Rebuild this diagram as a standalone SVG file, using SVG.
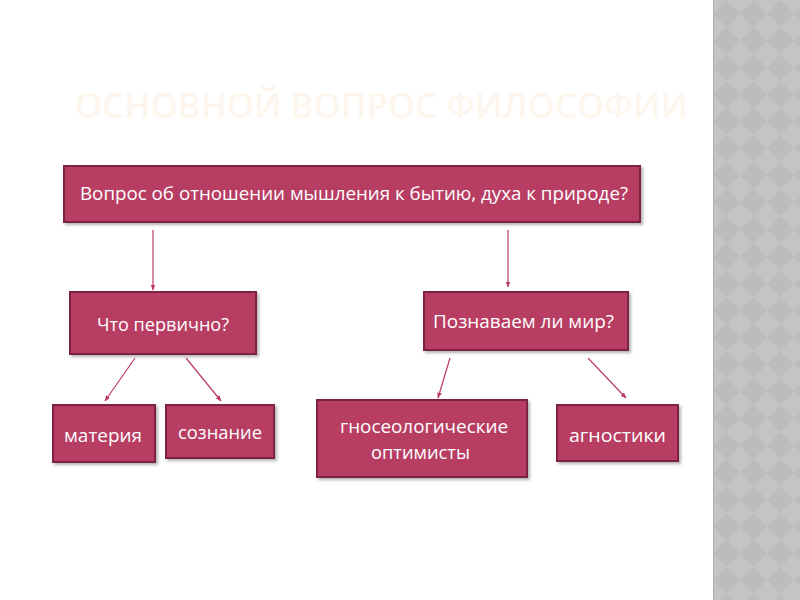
<svg xmlns="http://www.w3.org/2000/svg" width="800" height="600" viewBox="0 0 800 600">
<defs>
<pattern id="chk" x="713" y="0" width="27" height="27" patternUnits="userSpaceOnUse">
<rect width="27" height="27" fill="#c4c4c4"/>
<polygon points="13.5,0 27,13.5 13.5,27 0,13.5" fill="#bcbcbc"/>
</pattern>
<filter id="sh" x="-10%" y="-20%" width="130%" height="160%">
<feDropShadow dx="2" dy="2" stdDeviation="1.5" flood-color="#000" flood-opacity="0.3"/>
</filter>
<marker id="ah" viewBox="0 0 10 10" refX="9" refY="5" markerWidth="5" markerHeight="5" orient="auto">
<path d="M0,1 L10,5 L0,9 z" fill="#b83c64"/>
</marker>
</defs>
<style>
.box{fill:#b83c64;stroke:#7d2444;stroke-width:2;filter:url(#sh)}
.t{fill:#fff;font-family:"Open Sans","DejaVu Sans",sans-serif;font-size:18px}
.c{stroke:#b83c64;stroke-width:1.2;fill:none;marker-end:url(#ah)}
</style>
<rect width="800" height="600" fill="#fff"/>
<rect x="713" y="0" width="87" height="600" fill="url(#chk)"/>
<line x1="713.5" y1="0" x2="713.5" y2="600" stroke="#b0b0b0" stroke-width="1"/>
<text x="75" y="118" font-family="Open Sans, sans-serif" font-size="35" font-weight="600" fill="#fdf6ee" textLength="613" lengthAdjust="spacingAndGlyphs">ОСНОВНОЙ ВОПРОС ФИЛОСОФИИ</text>
<g id="connectors">
<line class="c" x1="153" y1="230" x2="153" y2="290"/>
<line class="c" x1="508" y1="230" x2="508" y2="287"/>
<line class="c" x1="135" y1="358" x2="105" y2="401"/>
<line class="c" x1="186" y1="358" x2="221" y2="401"/>
<line class="c" x1="450" y1="358" x2="438" y2="398"/>
<line class="c" x1="588" y1="358" x2="626" y2="398"/>
</g>
<g id="n1"><rect class="box" x="64" y="166" width="576" height="56"/><text class="t" x="80" y="200" textLength="548" lengthAdjust="spacingAndGlyphs">Вопрос об отношении мышления к бытию, духа к природе?</text></g>
<g id="n2"><rect class="box" x="70" y="292" width="186" height="62"/><text class="t" x="97" y="331" textLength="132" lengthAdjust="spacingAndGlyphs">Что первично?</text></g>
<g id="n3"><rect class="box" x="424" y="292" width="204" height="58"/><text class="t" x="433" y="328" textLength="181" lengthAdjust="spacingAndGlyphs">Познаваем  ли мир?</text></g>
<g id="n4"><rect class="box" x="53" y="405" width="102" height="57"/><text class="t" x="64" y="442" textLength="78" lengthAdjust="spacingAndGlyphs">материя</text></g>
<g id="n5"><rect class="box" x="166" y="405" width="108" height="53"/><text class="t" x="178" y="439" textLength="84" lengthAdjust="spacingAndGlyphs">сознание</text></g>
<g id="n6"><rect class="box" x="317" y="400" width="210" height="77"/><text class="t" x="340" y="433" textLength="168" lengthAdjust="spacingAndGlyphs">гносеологические</text><text class="t" x="371" y="459" textLength="99" lengthAdjust="spacingAndGlyphs">оптимисты</text></g>
<g id="n7"><rect class="box" x="557" y="405" width="121" height="56"/><text class="t" x="569" y="442" textLength="97" lengthAdjust="spacingAndGlyphs">агностики</text></g>
</svg>
